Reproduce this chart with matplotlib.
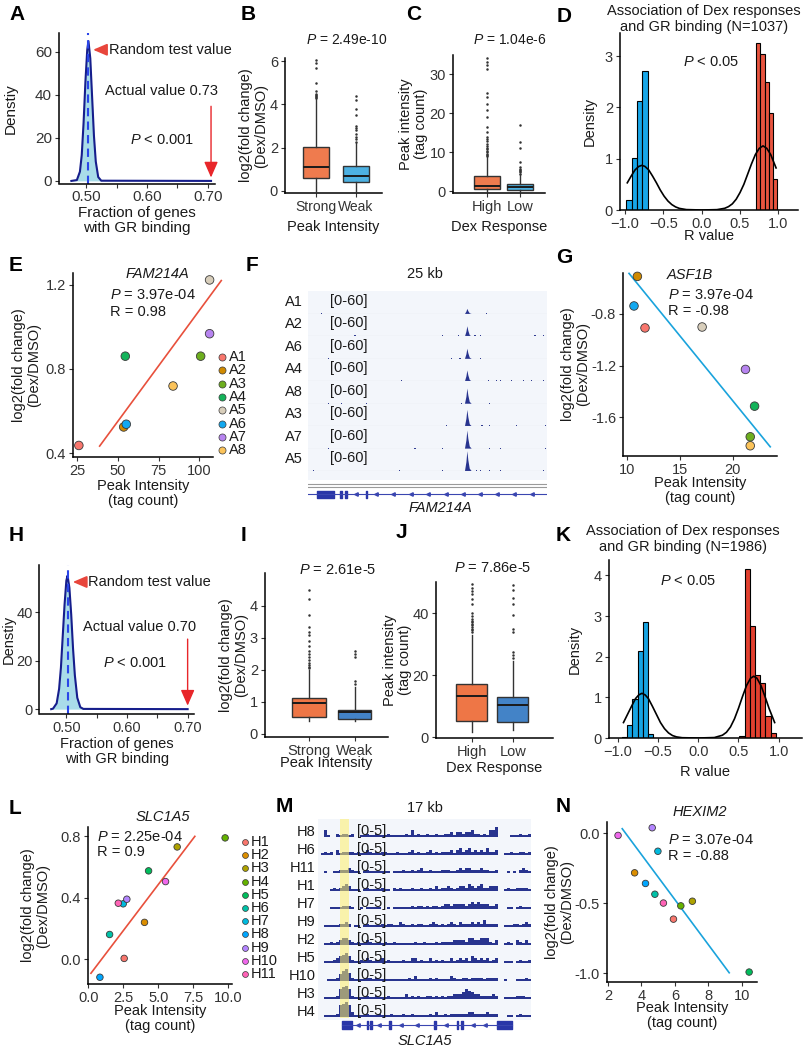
import matplotlib
matplotlib.use("Agg")
import matplotlib.pyplot as plt
import numpy as np

plt.rcParams['font.family'] = ['Liberation Sans', 'DejaVu Sans']
plt.rcParams['mathtext.fontset'] = 'custom'
plt.rcParams['mathtext.rm'] = 'Liberation Sans'
plt.rcParams['mathtext.it'] = 'Liberation Sans:italic'
plt.rcParams['axes.unicode_minus'] = True

# ---------------- values ----------------
# A / H: null distribution of fraction of genes with GR binding
a_x = [0.476, 0.485, 0.490, 0.493, 0.496, 0.499, 0.502, 0.504, 0.507, 0.510, 0.513, 0.516, 0.520, 0.525, 0.705]
a_y = [0, 0.4, 4.3, 12, 27, 46, 61, 65, 57, 39, 21, 9, 1.8, 0.1, 0]
a_random = 0.503
a_actual = 0.73
a_arrow_x = 0.705

h_x = [0.475, 0.478, 0.484, 0.488, 0.491, 0.494, 0.497, 0.500, 0.502, 0.505, 0.508, 0.511, 0.514, 0.518, 0.523, 0.528, 0.700]
h_y = [0, 0.2, 2.4, 8.3, 17, 30, 43, 53, 55, 50, 39, 25, 14, 4.7, 0.8, 0.1, 0]
h_random = 0.502
h_actual = 0.70

# B / C / I / J: box plot statistics
b_groups = ["Strong", "Weak"]
b_whislo = [0.0, 0.0]
b_q1 = [0.60, 0.43]
b_med = [1.10, 0.70]
b_q3 = [2.05, 1.16]
b_whishi = [4.25, 2.20]
b_fliers = [[4.3, 4.35, 4.4, 4.45, 4.5, 4.6, 5.0, 5.7, 5.92, 6.08],
            [2.26, 2.4, 2.5, 2.65, 2.8, 2.9, 3.0, 3.5, 3.8, 4.2, 4.4]]

c_groups = ["High", "Low"]
c_whislo = [0.0, 0.0]
c_q1 = [0.5, 0.4]
c_med = [1.3, 1.0]
c_q3 = [3.8, 1.9]
c_whishi = [8.8, 4.3]
c_fliers = [[9.0, 9.3, 9.6, 10.0, 10.4, 10.8, 11.2, 11.7, 12.2, 12.8, 13.5, 13.9, 15.2, 16.5,
             19.0, 20.8, 22.5, 24.2, 25.2, 31.4, 32.3, 33.2, 34.3],
            [4.5, 4.9, 5.2, 5.5, 5.8, 6.3, 7.5, 11.0, 12.7, 17.0]]

i_groups = ["Strong", "Weak"]
i_whislo = [0.41, 0.41]
i_q1 = [0.52, 0.47]
i_med = [0.95, 0.67]
i_q3 = [1.12, 0.73]
i_whishi = [2.0, 1.45]
i_fliers = [[2.05, 2.1, 2.15, 2.2, 2.3, 2.4, 2.5, 2.6, 2.75, 2.9, 3.09, 3.2, 3.35, 3.71, 4.23, 4.5],
            [1.55, 1.65, 2.4, 2.5, 2.6]]

j_groups = ["High", "Low"]
j_whislo = [1.5, 2.2]
j_q1 = [5.3, 4.9]
j_med = [13.4, 10.5]
j_q3 = [17.2, 12.9]
j_whishi = [33.0, 24.5]
j_fliers = [[34, 34.5, 35, 35.5, 36, 36.5, 37, 37.5, 38, 39, 40, 43, 44.5, 46, 47, 48, 49.5],
            [25.5, 26.5, 27.5, 34, 35, 39.5, 43, 45, 47.5, 49]]

# D / K: histograms of R values and fitted density curve
d_blue_edges = [-0.985, -0.915, -0.845, -0.775, -0.705]
d_blue_h = [0.2, 1.02, 2.12, 2.7]
d_red_edges = [0.71, 0.765, 0.82, 0.875, 0.93, 0.985]
d_red_h = [3.25, 3.05, 2.5, 1.9, 0.6]
d_curve_x = [-0.97, -0.92, -0.87, -0.82, -0.78, -0.74, -0.69, -0.64, -0.59, -0.54, -0.49, -0.44,
             -0.39, -0.34, -0.29, -0.2, 0.0, 0.2, 0.3, 0.35, 0.4, 0.45, 0.5, 0.55, 0.6, 0.65,
             0.7, 0.75, 0.8, 0.85, 0.9, 0.97]
d_curve_y = [0.53, 0.66, 0.78, 0.85, 0.87, 0.85, 0.78, 0.66, 0.53, 0.39, 0.27, 0.175,
             0.106, 0.06, 0.031, 0.008, 0.0, 0.007, 0.033, 0.066, 0.12, 0.21, 0.34, 0.50, 0.70, 0.90,
             1.08, 1.20, 1.25, 1.20, 1.08, 0.82]

k_blue_edges = [-0.95, -0.885, -0.82, -0.755, -0.69, -0.625, -0.56]
k_blue_h = [0.03, 0.32, 0.97, 2.15, 2.85, 0.1]
k_red_edges = [0.51, 0.575, 0.64, 0.705, 0.77, 0.835, 0.90, 0.965]
k_red_h = [0.05, 4.15, 2.75, 1.55, 1.35, 0.55, 0.12]
k_curve_x = [-0.93, -0.88, -0.83, -0.78, -0.74, -0.70, -0.66, -0.62, -0.57, -0.52, -0.47, -0.42,
             -0.37, -0.32, -0.27, -0.2, 0.0, 0.2, 0.3, 0.35, 0.4, 0.45, 0.5, 0.55, 0.6, 0.65,
             0.69, 0.73, 0.78, 0.83, 0.88, 0.95]
k_curve_y = [0.38, 0.58, 0.78, 0.97, 1.06, 1.10, 1.06, 0.97, 0.78, 0.58, 0.38, 0.23,
             0.125, 0.06, 0.027, 0.007, 0.0, 0.011, 0.068, 0.14, 0.27, 0.47, 0.73, 1.02, 1.29, 1.47,
             1.52, 1.47, 1.29, 1.02, 0.73, 0.38]

# E / G: samples A1..A8
a_samples = ["A1", "A2", "A3", "A4", "A5", "A6", "A7", "A8"]
a_colors = ["#F8766D", "#D08A00", "#6DAE1E", "#14B35A", "#D8CEBB", "#12A8F0", "#B784F0", "#FBC35A"]
e_x = [25.9, 53.5, 100.9, 54.5, 106.4, 55.1, 106.4, 83.9]
e_y = [0.436, 0.524, 0.861, 0.861, 1.224, 0.537, 0.968, 0.719]
e_fit_x = [38.7, 113.6]
e_fit_y = [0.433, 1.221]

g_x = [11.7, 10.98, 21.65, 22.06, 17.1, 10.66, 21.2, 21.65]
g_y = [-0.91, -0.513, -1.749, -1.513, -0.903, -0.741, -1.23, -1.818]
g_fit_x = [10.19, 23.54]
g_fit_y = [-0.49, -1.826]

# L / N: samples H1..H11
h_samples = ["H1", "H2", "H3", "H4", "H5", "H6", "H7", "H8", "H9", "H10", "H11"]
h_colors = ["#F8766D", "#DB8E00", "#AEA200", "#64B200", "#00BD5C", "#00C1A7",
            "#00BADE", "#00A6FF", "#B385FF", "#EF67EB", "#FF63B6"]
l_x = [2.56, 4.01, 6.34, 9.76, 4.3, 1.52, 2.49, 0.83, 2.75, 5.51, 2.14]
l_y = [0.004, 0.239, 0.731, 0.79, 0.575, 0.16, 0.36, -0.119, 0.39, 0.505, 0.364]
l_fit_x = [0.19, 7.6]
l_fit_y = [-0.093, 0.80]

n_x = [5.91, 3.59, 7.04, 6.35, 10.43, 4.8, 4.98, 4.24, 4.64, 2.6, 5.31]
n_y = [-0.615, -0.284, -0.487, -0.52, -0.993, -0.437, -0.13, -0.36, 0.038, -0.017, -0.50]
n_fit_x = [2.85, 9.24]
n_fit_y = [0.031, -0.998]

# F: GR ChIP-seq tracks at FAM214A (25 kb window, scale 0-60)
f_tracks = ["A1", "A2", "A6", "A4", "A8", "A3", "A7", "A5"]
f_peak_pos = 16.67
f_peak_h = [14, 28, 28, 30, 42, 45, 50, 55]
f_peak_dx = [-0.25, -0.1, 0.0, 0.1, 0.25, 0.45]
f_peak_shape = [0, 0.45, 1.0, 0.55, 0.12, 0]
f_blips = [[1.43, 18.69],
           [4.92, 14.09, 15.73, 17.47, 18.0, 23.74, 24.6],
           [2.12, 15.03, 15.9, 18.0],
           [9.8, 18.86, 19.7, 20.1, 21.3, 22.5, 23.4, 24.6],
           [2.12, 3.5, 6.1, 16.1, 19.0],
           [14.5, 18.2, 19.0, 21.8, 24.8],
           [2.1, 11.2, 14.1, 19.0, 20.1, 24.8],
           [0.56, 9.55, 14.1, 17.6, 18.0, 19.0, 20.1, 24.6]]
f_exons = [(0.94, 1.78), (3.35, 0.21), (3.87, 0.21), (6.07, 0.12)]
f_chevrons = [5.0, 7.1, 8.9, 10.8, 12.6, 14.4, 16.2, 18.0, 19.8, 21.6, 23.4]

# M: GR ChIP-seq tracks at SLC1A5 (17 kb window, scale 0-5), one digit per bin (x0.5)
m_tracks = ["H8", "H6", "H11", "H1", "H7", "H9", "H2", "H5", "H10", "H3", "H4"]
m_signal = [
    "0041002122 1200112112 1112111112 1412112112 1122313323 3422121446 0000111211 2",
    "0121203122 2212113212 1221112111 2312112312 1222313423 4232324223 0011211221 2",
    "0010011222 3211012111 1111011121 1212311211 1222112323 3222322112 0001010232 1",
    "0000121234 3111012111 1211021211 1211211213 1223212332 4323422333 0012112222 1",
    "0000111122 2100101111 1001011111 1212212122 1233233332 3434333223 0001101211 1",
    "0011111223 2011012111 1212211321 1212211232 1212321322 2323242222 0011122123 2",
    "0011212344 3212113211 2121121111 1121121112 1222233332 4433444213 0012103213 1",
    "0011123456 4211213212 2312111121 1331211312 1211312323 1432323123 0011101211 2",
    "0001112467 5211112212 1111111111 2131111212 1111321122 1222212222 0010001112 1",
    "0011112678 6211112112 1112111113 1212112212 1212233346 5433222232 0011112221 1",
    "0011112789 7311112111 2111211121 1211111213 1121222222 3322223222 0001101211 1",
]
m_highlight = (1.76, 2.47)
m_gene_span = (1.92, 15.48)
m_exons = [(1.92, 0.79), (3.9, 0.12), (4.15, 0.15), (5.67, 0.16), (9.26, 0.16),
           (11.1, 0.1), (11.4, 0.2), (14.29, 1.19)]
m_chevrons = [3.2, 4.9, 6.6, 7.9, 10.2, 12.4, 13.3]

# ---------------- drawing ----------------
W, H = 804, 1050
fig = plt.figure(figsize=(W / 100, H / 100), dpi=100)
TXT = "#1a1a1a"
TICK = "#333333"
NAVY = "#28348F"
FS = 10.5


def box(l, t, r, b):
    ax = fig.add_axes([l / W, 1 - b / H, (r - l) / W, (b - t) / H])
    ax.pbox = (l, t, r, b)
    return ax


def ftext(x, y, s, **kw):
    kw.setdefault("color", TXT)
    kw.setdefault("fontsize", FS)
    fig.text(x / W, 1 - y / H, s, **kw)


def panel(l, t, r, b, xlim, ylim, fs=FS):
    ax = box(l, t, r, b)
    ax.set_xlim(xlim)
    ax.set_ylim(ylim)
    for s in ["top", "right"]:
        ax.spines[s].set_visible(False)
    for s in ["left", "bottom"]:
        ax.spines[s].set_linewidth(1.1)
        ax.spines[s].set_color("black")
    ax.tick_params(length=3, width=0.8, color=TICK, labelcolor=TICK, labelsize=fs, pad=2)
    ax.set_facecolor("none")
    return ax


def ylab(ax, s, px, fs=FS):
    l, t, r, b = ax.pbox
    ax.set_ylabel(s, fontsize=fs, color=TXT, linespacing=1.05)
    ax.yaxis.set_label_coords((px - l) / (r - l), 0.5)


def xlab(ax, s, py, fs=FS):
    l, t, r, b = ax.pbox
    ax.set_xlabel(s, fontsize=fs, color=TXT, linespacing=1.1)
    ax.xaxis.set_label_coords(0.5, (b - py) / (b - t))


def letter(x, y, s):
    ftext(x, y, s, fontsize=15, fontweight="bold", color="black", va="top")


def null_panel(ax, xs, ys, rand, arrow_x, arrow_top, rnd_xy, act_xy, p_xy, actual):
    ax.fill_between(xs, ys, 0, color="#A9DCE9", lw=0)
    ax.plot(xs, ys, color="#161E8C", lw=1.5)
    ax.axvline(rand, color="#2A45E8", lw=1.5, ls=(0, (4, 2.5)))
    ax.annotate("", xy=(rand + 0.004, rnd_xy[1]), xytext=(rnd_xy[0] - 0.002, rnd_xy[1]),
                arrowprops=dict(arrowstyle="-|>,head_width=0.3,head_length=0.7",
                                color="#E8463C", lw=1.3, mutation_scale=12))
    ax.text(rnd_xy[0], rnd_xy[1], "Random test value", va="center", ha="left", fontsize=FS, color=TXT)
    ax.text(act_xy[0], act_xy[1], f"Actual value {actual:.2f}", va="center", ha="left",
            fontsize=FS, color=TXT)
    ax.text(p_xy[0], p_xy[1], "$P$ < 0.001", va="center", ha="left", fontsize=FS, color=TXT)
    ax.annotate("", xy=(arrow_x, 0.3), xytext=(arrow_x, arrow_top),
                arrowprops=dict(arrowstyle="-|>,head_width=0.35,head_length=0.8",
                                color="#E8262A", lw=1.0, mutation_scale=12))
    ax.set_xticks([0.50, 0.55, 0.60, 0.65, 0.70])
    ax.set_xticklabels(["0.50", "", "0.60", "", "0.70"])


def box_panel(ax, lo, q1, med, q3, hi, fliers, colors, width, labels):
    stats = [dict(whislo=lo[k], q1=q1[k], med=med[k], q3=q3[k], whishi=hi[k], fliers=fliers[k])
             for k in range(len(lo))]
    bp = ax.bxp(stats, positions=[1, 2], widths=width, patch_artist=True, showcaps=False,
                boxprops=dict(edgecolor="#333333", linewidth=1.0),
                medianprops=dict(color="#1a1a1a", linewidth=1.4),
                whiskerprops=dict(color="#333333", linewidth=1.0),
                flierprops=dict(marker="o", markersize=1.8, markerfacecolor="#333333",
                                markeredgecolor="none"))
    for p, c in zip(bp["boxes"], colors):
        p.set_facecolor(c)
    ax.set_xticks([1, 2])
    ax.set_xticklabels(labels)


def hist_panel(ax, be, bh, re, rh, cx, cy, blue, red):
    ax.bar(be[:-1], bh, width=np.diff(be), align="edge", color=blue, edgecolor="black", lw=0.8)
    ax.bar(re[:-1], rh, width=np.diff(re), align="edge", color=red, edgecolor="black", lw=0.8)
    ax.plot(cx, cy, color="black", lw=1.2)
    ax.set_xticks([-1.0, -0.5, 0.0, 0.5, 1.0])


def scatter_panel(ax, xs, ys, fx, fy, colors, line_color, s):
    ax.plot(fx, fy, color=line_color, lw=1.2, clip_on=False, zorder=2)
    ax.scatter(xs, ys, s=s, c=colors, edgecolors="#3a3a3a", linewidths=0.6, zorder=3, clip_on=False)


def legend_block(l, t, r, b, labels, colors, y0, dy, mx, tx, s):
    lax = box(l, t, r, b)
    lax.set_xlim(l, r)
    lax.set_ylim(b, t)
    lax.axis("off")
    for k, (lab, col) in enumerate(zip(labels, colors)):
        lax.scatter(mx, y0 + dy * k, s=s, c=col, edgecolors="#3a3a3a", linewidths=0.5)
        lax.text(tx, y0 + dy * k, lab, va="center", ha="left", fontsize=10.5, color=TXT)


# ---- A ----
axA = panel(59, 33, 215, 183.5, (0.4557, 0.7115), (-1.2, 68.8), fs=11)
null_panel(axA, a_x, a_y, a_random, a_arrow_x, 36, (0.537, 61), (0.531, 42), (0.572, 19), a_actual)
axA.set_yticks([0, 20, 40, 60])
ylab(axA, "Denstiy", 18, fs=11)
xlab(axA, "Fraction of genes\nwith GR binding", 206, fs=11)
letter(9, 5, "A")

# ---- B ----
axB = panel(285, 58, 382, 193, (0.225, 2.65), (-0.1, 6.15))
box_panel(axB, b_whislo, b_q1, b_med, b_q3, b_whishi, b_fliers, ["#EF7B4E", "#4DB1E2"], 0.65, b_groups)
axB.set_yticks([0, 2, 4, 6])
axB.tick_params(axis="x", labelsize=10)
ylab(axB, "log2(fold change)\n(Dex/DMSO)", 268)
xlab(axB, "Peak Intensity", 220)
ftext(347, 40, "$P$ = 2.49e-10", ha="center", va="center", fontsize=10)
letter(241, 5, "B")

# ---- C ----
axC = panel(453, 55, 545, 193, (-0.03, 2.76), (-0.5, 35))
box_panel(axC, c_whislo, c_q1, c_med, c_q3, c_whishi, c_fliers, ["#EF7B4E", "#4DB1E2"], 0.8, c_groups)
axC.set_yticks([0, 10, 20, 30])
ylab(axC, "Peak intensity\n(tag count)", 428)
xlab(axC, "Dex Response", 220)
ftext(510, 40, "$P$ = 1.04e-6", ha="center", va="center", fontsize=10)
letter(406, 5, "C")

# ---- D ----
axD = panel(620, 33, 798, 210, (-1.065, 1.256), (0, 3.45))
hist_panel(axD, d_blue_edges, d_blue_h, d_red_edges, d_red_h, d_curve_x, d_curve_y, "#17A6E8", "#E8543F")
axD.set_yticks([0, 1, 2, 3])
ylab(axD, "Density", 597)
xlab(axD, "R value", 229)
ftext(704, 19, "Association of Dex responses\nand GR binding (N=1037)", ha="center", va="center",
      linespacing=1.1)
ftext(683, 62, "$P$ < 0.05", ha="left", va="center")
letter(557, 7, "D")

# ---- E ----
axE = panel(73, 273, 213, 457, (22.3, 108.5), (0.381, 1.257))
scatter_panel(axE, e_x, e_y, e_fit_x, e_fit_y, a_colors, "#E8503C", 38)
axE.set_xticks([25, 50, 75, 100])
axE.set_yticks([0.4, 0.8, 1.2])
axE.set_yticklabels(["0.4", "0.8", "1.2"])
ylab(axE, "log2(fold change)\n(Dex/DMSO)", 41)
xlab(axE, "Peak Intensity\n(tag count)", 479)
ftext(157, 274, "FAM214A", ha="center", va="center", style="italic")
ftext(110, 295, "$P$ = 3.97e-04", ha="left", va="center")
ftext(110, 312, "R = 0.98", ha="left", va="center")
legend_block(214, 345, 262, 460, a_samples, a_colors, 357, 13.3, 222, 229, 26)
letter(9, 256, "E")

# ---- F ----
f_top, f_row = 291.5, 22.45
bgF = box(308, 291, 547, 489)
bgF.set_xlim(308, 547)
bgF.set_ylim(489, 291)
bgF.axis("off")
bgF.add_patch(plt.Rectangle((308, 291), 239, 189, color="#F3F6FB", lw=0))
bgF.plot([308, 547], [484, 484], color="#9A9A9A", lw=0.8)
bgF.plot([308, 547], [486.8, 486.8], color="#9A9A9A", lw=0.8)
for k, name in enumerate(f_tracks):
    t = f_top + f_row * k
    tax = box(308, t, 547, t + f_row)
    tax.set_xlim(0, 25)
    tax.set_ylim(0, 62)
    tax.axis("off")
    tax.fill([f_peak_pos + d for d in f_peak_dx], [f_peak_h[k] * v for v in f_peak_shape],
             color=NAVY, lw=0)
    tax.bar(f_blips[k], [2.5] * len(f_blips[k]), width=0.12, color=NAVY, lw=0)
    tax.axhline(0, color="#C3C8D3", lw=0.8)
    ftext(303, t + 10.5, name, ha="right", va="center")
    ftext(330, t + 9.5, "[0-60]", ha="left", va="center")
gF = box(308, 489, 547, 500)
gF.set_xlim(0, 25)
gF.set_ylim(0, 1)
gF.axis("off")
gF.plot([0, 25], [0.5, 0.5], color="#3A46B0", lw=0.8)
gF.broken_barh(f_exons, (0.22, 0.56), color="#2A36A8")
gF.plot(f_chevrons, [0.5] * len(f_chevrons), ls="none", marker="<", ms=2.5, color="#3A46B0")
ftext(425, 274, "25 kb", ha="center", va="center")
ftext(440, 508, "FAM214A", ha="center", va="center", style="italic")
letter(246, 256, "F")

# ---- G ----
axG = panel(623, 273, 777, 456, (9.62, 24.18), (-1.897, -0.487))
scatter_panel(axG, g_x, g_y, g_fit_x, g_fit_y, a_colors, "#1AA3DC", 38)
axG.set_xticks([10, 15, 20])
axG.set_yticks([-1.6, -1.2, -0.8])
axG.set_yticklabels(["-1.6", "-1.2", "-0.8"])
ylab(axG, "log2(fold change)\n(Dex/DMSO)", 590)
xlab(axG, "Peak Intensity\n(tag count)", 476)
ftext(690, 275, "ASF1B", ha="center", va="center", style="italic")
ftext(668, 295, "$P$ = 3.97e-04", ha="left", va="center")
ftext(668, 311, "R = -0.98", ha="left", va="center")
letter(556, 248, "G")

# ---- H ----
axH = panel(39.5, 565, 194, 714, (0.4557, 0.7105), (-2.0, 59.4))
null_panel(axH, h_x, h_y, h_random, h_actual, 30, (0.535, 52.4), (0.528, 34), (0.560, 19), h_actual)
axH.set_yticks([0, 20, 40])
ylab(axH, "Denstiy", 16)
xlab(axH, "Fraction of genes\nwith GR binding", 737)
letter(9, 526, "H")

# ---- I ----
axI = panel(265, 573, 388, 737, (0.043, 2.72), (-0.1, 5.03))
box_panel(axI, i_whislo, i_q1, i_med, i_q3, i_whishi, i_fliers, ["#EE7646", "#4383C7"], 0.72, i_groups)
axI.set_yticks([0, 1, 2, 3, 4])
ylab(axI, "log2(fold change)\n(Dex/DMSO)", 248)
xlab(axI, "Peak Intensity", 756)
ftext(338, 570, "$P$ = 2.61e-5", ha="center", va="center")
letter(241, 526, "I")

# ---- J ----
axJ = panel(436, 582, 553, 738, (0.13, 2.98), (-0.3, 50))
box_panel(axJ, j_whislo, j_q1, j_med, j_q3, j_whishi, j_fliers, ["#EE7646", "#4383C7"], 0.76, j_groups)
axJ.set_yticks([0, 20, 40])
ylab(axJ, "Peak intensity\n(tag count)", 412)
xlab(axJ, "Dex Response", 761)
ftext(493, 568, "$P$ = 7.86e-5", ha="center", va="center")
letter(396, 523, "J")

# ---- K ----
axK = panel(609, 560, 802, 738, (-1.11, 1.29), (0, 4.38))
hist_panel(axK, k_blue_edges, k_blue_h, k_red_edges, k_red_h, k_curve_x, k_curve_y, "#17A4E2", "#E2402F")
axK.set_yticks([0, 1, 2, 3, 4])
ylab(axK, "Density", 582)
xlab(axK, "R value", 765)
ftext(683, 539, "Association of Dex responses\nand GR binding (N=1986)", ha="center", va="center",
      linespacing=1.1)
ftext(660, 581, "$P$ < 0.05", ha="left", va="center")
letter(556, 526, "K")

# ---- L ----
axL = panel(88, 827, 232, 984, (-0.02, 10.25), (-0.163, 0.861))
scatter_panel(axL, l_x, l_y, l_fit_x, l_fit_y, h_colors, "#E8503C", 22)
axL.set_xticks([0, 2.5, 5, 7.5, 10])
axL.set_xticklabels(["0.0", "2.5", "5.0", "7.5", "10.0"])
axL.set_yticks([0, 0.4, 0.8])
axL.set_yticklabels(["0.0", "0.4", "0.8"])
ylab(axL, "log2(fold change)\n(Dex/DMSO)", 50)
xlab(axL, "Peak Intensity\n(tag count)", 1004)
ftext(163, 817, "SLC1A5", ha="center", va="center", style="italic")
ftext(97, 837, "$P$ = 2.25e-04", ha="left", va="center")
ftext(97, 852, "R = 0.9", ha="left", va="center")
legend_block(238, 834, 285, 982, h_samples, h_colors, 842, 13.2, 245, 251, 18)
letter(9, 799, "L")

# ---- M ----
m_top, m_row = 819, 18.0
bgM = box(318, 819, 531, 1020)
bgM.set_xlim(318, 531)
bgM.set_ylim(1020, 819)
bgM.axis("off")
bgM.add_patch(plt.Rectangle((318, 819), 213, 201, color="#F3F6FB", lw=0))
for k, name in enumerate(m_tracks):
    t = m_top + m_row * k
    tax = box(318, t, 531, t + m_row)
    vals = [int(ch) * 0.5 for ch in m_signal[k].replace(" ", "")]
    bw = 17.0 / len(vals)
    tax.set_xlim(0, 17)
    tax.set_ylim(0, 5.4)
    tax.axis("off")
    tax.bar(np.arange(len(vals)) * bw, vals, width=bw, align="edge", color=NAVY, lw=0)
    tax.axhline(0, color="#9AA1C8", lw=0.7)
    ftext(316, t + 12.5, name, ha="right", va="center")
    ftext(357, t + 11.5, "[0-5]", ha="left", va="center")
hlM = box(318, 819, 531, 1018)
hlM.set_xlim(0, 17)
hlM.set_ylim(0, 1)
hlM.axis("off")
hlM.axvspan(*m_highlight, color="#FFF06A", alpha=0.55, lw=0)
gM = box(318, 1019, 531, 1031)
gM.set_xlim(0, 17)
gM.set_ylim(0, 1)
gM.axis("off")
gM.plot(m_gene_span, [0.5, 0.5], color="#3A46B0", lw=0.8)
gM.broken_barh(m_exons, (0.15, 0.7), color="#2A36A8")
gM.plot(m_chevrons, [0.5] * len(m_chevrons), ls="none", marker="<", ms=2.5, color="#3A46B0")
ftext(425, 808, "17 kb", ha="center", va="center")
ftext(425, 1041, "SLC1A5", ha="center", va="center", style="italic")
letter(276, 797, "M")

# ---- N ----
axN = panel(607, 822, 757, 982, (1.94, 10.9), (-1.064, 0.079))
scatter_panel(axN, n_x, n_y, n_fit_x, n_fit_y, h_colors, "#1AA3DC", 22)
axN.set_xticks([2, 4, 6, 8, 10])
axN.set_yticks([-1.0, -0.5, 0.0])
axN.set_yticklabels(["-1.0", "-0.5", "0.0"])
ylab(axN, "log2(fold change)\n(Dex/DMSO)", 574)
xlab(axN, "Peak Intensity\n(tag count)", 1001)
ftext(700, 812, "HEXIM2", ha="center", va="center", style="italic")
ftext(668, 840, "$P$ = 3.07e-04", ha="left", va="center")
ftext(668, 856, "R = -0.88", ha="left", va="center")
letter(556, 797, "N")

fig.savefig("out.png", dpi=100, facecolor="white")
